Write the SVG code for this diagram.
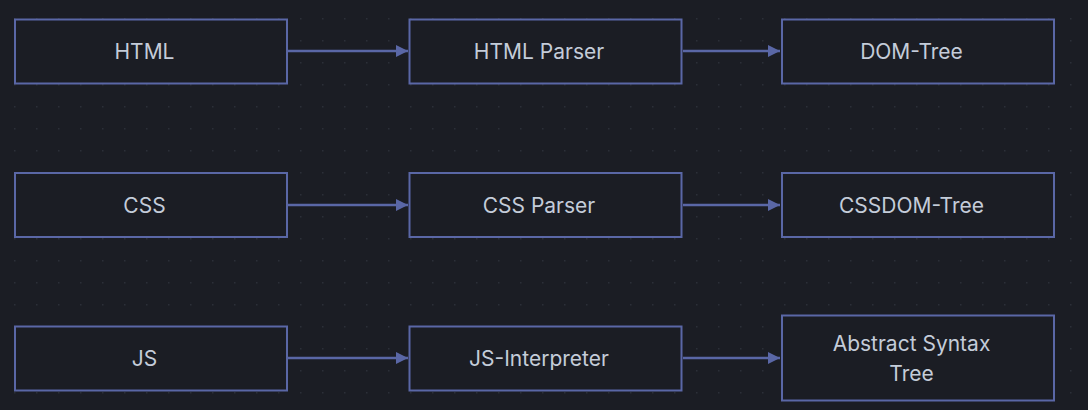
<svg xmlns="http://www.w3.org/2000/svg" width="1088" height="410" viewBox="0 0 1088 410">
<defs>
<pattern id="dots" x="0" y="0" width="22" height="22" patternUnits="userSpaceOnUse" patternTransform="translate(14 18)">
<rect x="0" y="0" width="1.5" height="1.5" fill="#2c2f38"/>
</pattern>
<marker id="arr" viewBox="0 0 12 12" refX="12" refY="6" markerWidth="12" markerHeight="12" markerUnits="userSpaceOnUse" orient="auto">
<path d="M0,0 L12,6 L0,12 Z" fill="#5a67a6"/>
</marker>
</defs>
<style>
.node rect{fill:#1b1d24;stroke:#5a67a6;stroke-width:2}
.node text{fill:#c4ccd9;font-family:Inter,"Noto Sans",sans-serif;font-size:21px;text-anchor:middle;dominant-baseline:central}
.edge{stroke:#5a67a6;stroke-width:2.5;fill:none;marker-end:url(#arr)}
</style>
<rect width="1088" height="410" fill="#1b1d24"/>
<rect width="1088" height="410" fill="url(#dots)"/>
<g id="connectors">
<line class="edge" x1="288" y1="51" x2="408" y2="51"/>
<line class="edge" x1="683" y1="51" x2="780" y2="51"/>
<line class="edge" x1="288" y1="205" x2="408" y2="205"/>
<line class="edge" x1="683" y1="205" x2="780" y2="205"/>
<line class="edge" x1="288" y1="358" x2="408" y2="358"/>
<line class="edge" x1="683" y1="358" x2="780" y2="358"/>
</g>
<g id="html" class="node"><rect x="15" y="19.5" width="272" height="64"/><text x="144.5" y="51.5">HTML</text></g>
<g id="htmlparser" class="node"><rect x="409.5" y="19.5" width="272" height="64"/><text x="539" y="51.5">HTML Parser</text></g>
<g id="domtree" class="node"><rect x="782" y="19.5" width="272" height="64"/><text x="911.5" y="51.5">DOM-Tree</text></g>
<g id="css" class="node"><rect x="15" y="173" width="272" height="64"/><text x="144.5" y="205">CSS</text></g>
<g id="cssparser" class="node"><rect x="409.5" y="173" width="272" height="64"/><text x="539" y="205">CSS Parser</text></g>
<g id="cssdomtree" class="node"><rect x="782" y="173" width="272" height="64"/><text x="911.5" y="205">CSSDOM-Tree</text></g>
<g id="js" class="node"><rect x="15" y="326.5" width="272" height="64"/><text x="144.5" y="358">JS</text></g>
<g id="jsinterpreter" class="node"><rect x="409.5" y="326.5" width="272" height="64"/><text x="539" y="358">JS-Interpreter</text></g>
<g id="ast" class="node"><rect x="782" y="315.5" width="272" height="85"/><text x="911.5" y="343">Abstract Syntax</text><text x="911.5" y="373.5">Tree</text></g>
</svg>
